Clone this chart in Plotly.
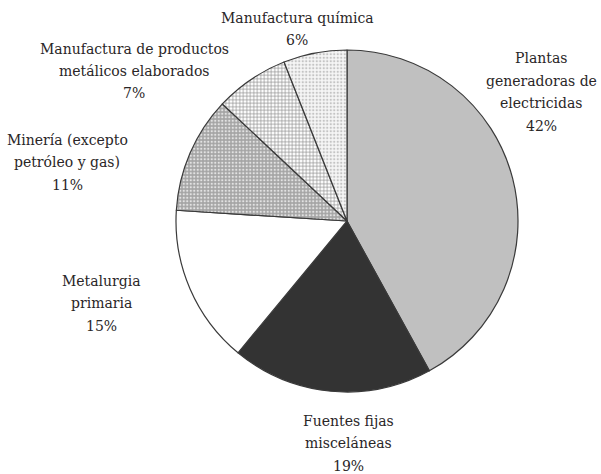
import plotly.graph_objects as go

# Emission sources, clockwise from 12 o'clock
categories = [
    "Plantas<br>generadoras de<br>electricidas",
    "Fuentes fijas<br>misceláneas",
    "Metalurgia<br>primaria",
    "Minería (excepto<br>petróleo y gas)",
    "Manufactura de productos<br>metálicos elaborados",
    "Manufactura química",
]
shares = [42, 19, 15, 11, 7, 6]

fill_colors = ["#c0c0c0", "#333333", "#ffffff", "#a4a4a4", "#ffffff", "#f6f6f6"]
pattern_shapes = ["", "", "", ".", "+", "."]
pattern_fg = ["#c0c0c0", "#333333", "#ffffff", "#e2e2e2", "#8a8a8a", "#c4c4c4"]

# Label anchor points (pixel coordinates of each label block's centre)
label_pos = [
    (541, 92),
    (348, 443),
    (102, 303),
    (67, 162),
    (134, 71),
    (297, 29),
]

W, H = 601, 474
SERIF = "DejaVu Serif"
LINE_GAP = 22.5  # px between label lines

fig = go.Figure(
    go.Pie(
        labels=categories,
        values=shares,
        sort=False,
        direction="clockwise",
        rotation=0,
        textinfo="none",
        hoverinfo="label+percent",
        marker=dict(
            colors=fill_colors,
            line=dict(color="#3a3a3a", width=1.2),
            pattern=dict(
                shape=pattern_shapes,
                fgcolor=pattern_fg,
                bgcolor=fill_colors,
                size=3.5,
                solidity=0.35,
            ),
        ),
        domain=dict(x=[176 / W, 518 / W], y=[1 - 392 / H, 1 - 50 / H]),
        showlegend=False,
    )
)

annotations = []
for name, val, (px, py) in zip(categories, shares, label_pos):
    lines = name.split("<br>") + [f"{val}%"]
    n = len(lines)
    for i, line in enumerate(lines):
        ly = py + (i - (n - 1) / 2) * LINE_GAP
        annotations.append(
            dict(
                x=px / W,
                y=1 - ly / H,
                xref="paper",
                yref="paper",
                xanchor="center",
                yanchor="middle",
                align="center",
                showarrow=False,
                text=line,
                font=dict(family=SERIF, size=14, color="#2a2627"),
            )
        )

fig.update_layout(
    width=W,
    height=H,
    margin=dict(l=0, r=0, t=0, b=0),
    paper_bgcolor="white",
    plot_bgcolor="white",
    font=dict(family=SERIF),
    annotations=annotations,
)

fig.write_html("out.html")
